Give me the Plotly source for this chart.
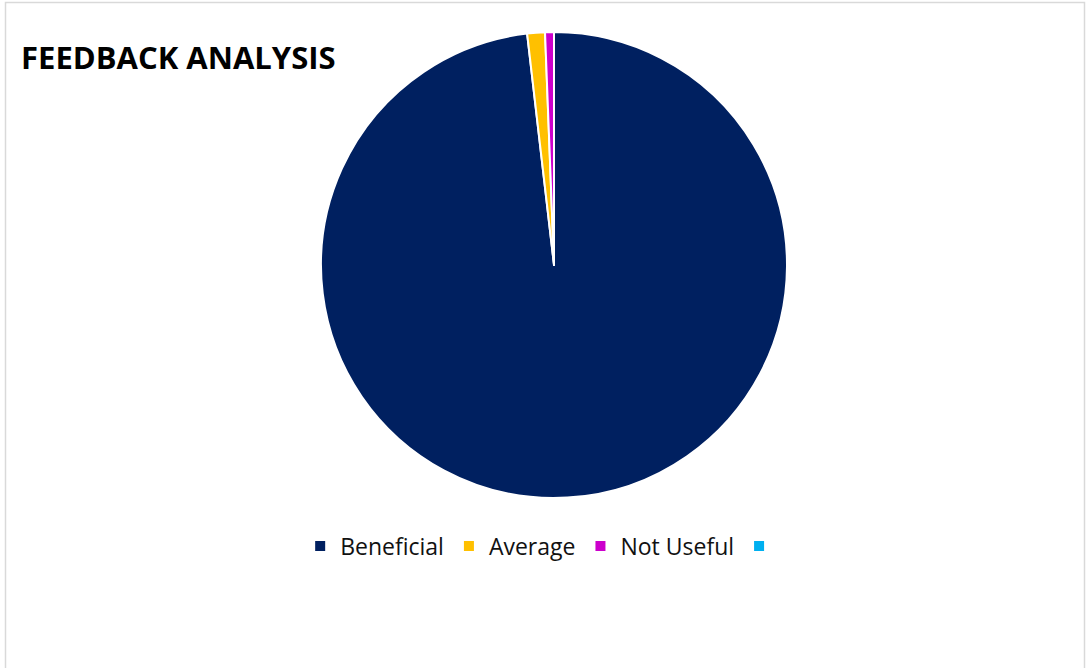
import plotly.graph_objects as go

categories = ["Beneficial", "Average", "Not Useful", " "]
values = [160, 2, 1, 0]
colors = ["#002060", "#FFC000", "#CC00CC", "#00B0F0"]

W, H = 1086, 668
cx, cy, r = 554, 265, 233

fig = go.Figure(go.Pie(
    labels=categories,
    values=values,
    marker=dict(colors=colors, line=dict(color="white", width=2)),
    sort=False,
    direction="clockwise",
    rotation=0,
    textinfo="none",
    hoverinfo="label+value+percent",
    domain=dict(x=[(cx - r) / W, (cx + r) / W],
                y=[(H - cy - r) / H, (H - cy + r) / H]),
))

fig.update_layout(
    width=W, height=H,
    margin=dict(l=0, r=0, t=0, b=0),
    paper_bgcolor="white",
    font=dict(family="Open Sans", color="#000000"),
    showlegend=True,
    legend=dict(orientation="h", x=0.502, xanchor="center", y=(H - 546) / H, yanchor="middle",
                font=dict(size=23, family="Open Sans", color="#111111"),
                itemwidth=30, traceorder="normal"),
    annotations=[dict(text="<b>FEEDBACK ANALYSIS</b>", x=19 / W, y=(H - 57) / H,
                      xref="paper", yref="paper", xanchor="left", yanchor="middle",
                      showarrow=False, font=dict(size=31, family="Open Sans", color="#000000"))],
    shapes=[dict(type="rect", xref="paper", yref="paper",
                 x0=5.5 / W, x1=1084.5 / W, y0=-0.01, y1=(H - 2.5) / H,
                 line=dict(color="#D9D9D9", width=1.5), fillcolor="rgba(0,0,0,0)", layer="below")],
)

fig.write_html("out.html")
